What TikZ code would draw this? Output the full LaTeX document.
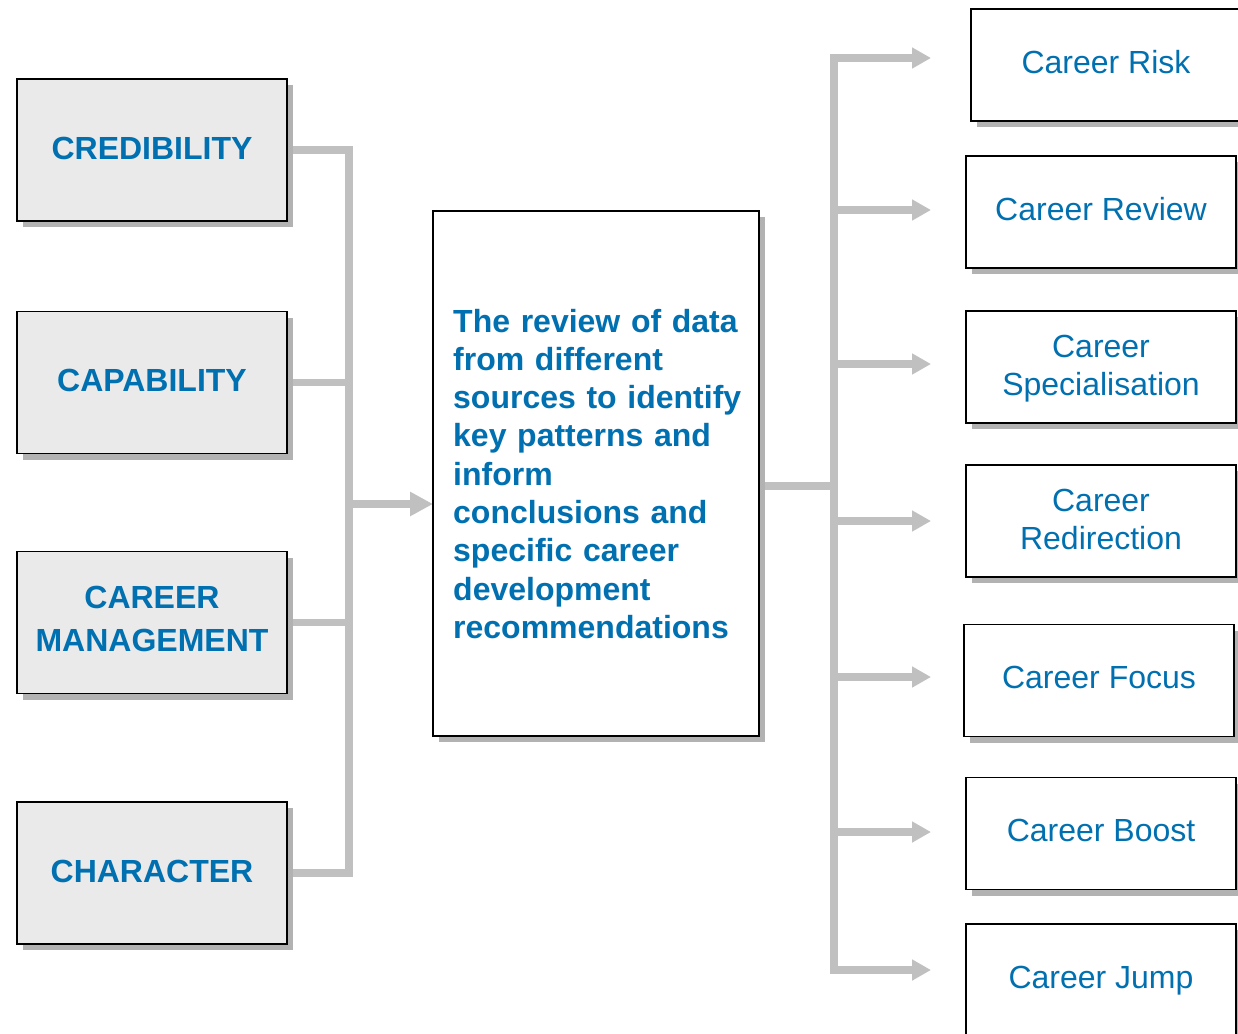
\documentclass[tikz,border=0pt]{standalone}
\usepackage{fontspec}
\setmainfont{Liberation Sans}
\usetikzlibrary{arrows.meta,shadows,calc}
\definecolor{txtblue}{RGB}{0,112,176}
\definecolor{linegray}{RGB}{192,192,192}
\definecolor{boxgray}{RGB}{234,234,234}
\pgfdeclarelayer{bg}
\pgfsetlayers{bg,main}
\begin{document}
\begin{tikzpicture}[x=1pt,y=-1pt,
  shbox/.style={draw=black,line width=1.5pt,inner sep=0pt,outer sep=0pt,
    drop shadow={shadow xshift=6pt,shadow yshift=-6pt,fill=black!30,opacity=1}},
  leftbox/.style={shbox,fill=boxgray,minimum width=270pt,minimum height=142pt,
    align=center,text=txtblue,font=\bfseries\fontsize{32}{43}\selectfont,
    text height=24pt,text depth=5.5pt},
  rightbox/.style={shbox,fill=white,minimum width=270pt,minimum height=112pt,
    align=center,text=txtblue,font=\fontsize{32}{38}\selectfont,
    text height=24pt,text depth=8pt},
  twoline/.style 2 args={text height=#1,text depth=#2},
  conn/.style={draw=linegray,line width=7.5pt,line join=miter},
  arr/.style={conn,-{Triangle[length=19pt,width=20pt]}},
  bigarr/.style={conn,-{Triangle[length=23pt,width=23pt]}}
]
\useasboundingbox (0,0) rectangle (1238,1033);

% left boxes
\node[leftbox] (cred) at (152,150) {CREDIBILITY};
\node[leftbox] (capa) at (152,382.5) {CAPABILITY};
\node[leftbox,twoline={67pt}{10pt}] (cman) at (152,622.5) {CAREER\\MANAGEMENT};
\node[leftbox] (char) at (152,873) {CHARACTER};

% middle box
\node[shbox,fill=white,minimum width=326pt,minimum height=525pt] (mid) at (596,473.5) {};
\node[anchor=base west,inner sep=0pt,text width=300pt,align=left,text=txtblue,
  font=\bfseries\fontsize{32}{38.3}\selectfont] (midtext) at (453,332)
  {The review of data\\from different\\sources to identify\\key patterns and\\inform\\conclusions and\\specific career\\development\\recommendations};

% right boxes
\node[rightbox] (risk)  at (1106,65)    {Career Risk};
\node[rightbox] (rev)   at (1101,212)   {Career Review};
\node[rightbox,twoline={62pt}{6pt}] (spec)  at (1101,367)   {Career\\Specialisation};
\node[rightbox,twoline={63pt}{6pt}] (redir) at (1101,521)   {Career\\Redirection};
\node[rightbox] (focus) at (1099,680.5) {Career Focus};
\node[rightbox] (boost) at (1101,833.5) {Career Boost};
\node[rightbox] (jump)  at (1101,980)   {Career Jump};

% coordinates
\coordinate (lbus) at (349,504);
\coordinate (rbus) at (834,486);
\coordinate (t1) at (931,58);
\coordinate (t2) at (931,210);
\coordinate (t3) at (931,364);
\coordinate (t4) at (931,521);
\coordinate (t5) at (931,677);
\coordinate (t6) at (931,832);
\coordinate (t7) at (931,970);

\begin{pgfonlayer}{bg}
% left connectors
\draw[conn] (cred.east) -| (lbus) |- (char.east);
\draw[conn] (capa.east) -- (capa.east -| lbus);
\draw[conn] (cman.east) -- (cman.east -| lbus);
\draw[bigarr] (lbus) -- (lbus -| mid.west);
% right connectors
\draw[conn] (rbus -| mid.east) -- (rbus);
\draw[arr] (rbus) |- (t1);
\draw[arr] (rbus) |- (t7);
\draw[arr] (t2 -| rbus) -- (t2);
\draw[arr] (t3 -| rbus) -- (t3);
\draw[arr] (t4 -| rbus) -- (t4);
\draw[arr] (t5 -| rbus) -- (t5);
\draw[arr] (t6 -| rbus) -- (t6);
\end{pgfonlayer}
\end{tikzpicture}
\end{document}
